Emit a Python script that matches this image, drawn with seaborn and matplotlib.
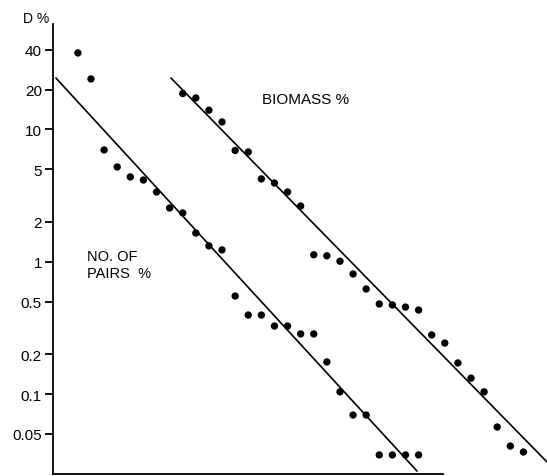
import numpy as np
import pandas as pd
import matplotlib
matplotlib.use("Agg")
import matplotlib.pyplot as plt
import seaborn as sns

# values (x = class index, y = D %)
pairs_x = list(range(0, 27))
pairs_y = [37.9, 24.1, 7.0, 5.21, 4.38, 4.15, 3.37, 2.55, 2.34, 1.65, 1.32, 1.23,
           0.551, 0.396, 0.396, 0.327, 0.327, 0.285, 0.285, 0.175, 0.104, 0.0695,
           0.0695, 0.0347, 0.0347, 0.0347, 0.0347]

biomass_x = list(range(8, 35))
biomass_y = [18.7, 17.3, 14.0, 11.4, 6.94, 6.76, 4.23, 3.94, 3.37, 2.64, 1.13, 1.11,
             1.01, 0.809, 0.623, 0.480, 0.472, 0.455, 0.432, 0.280, 0.243, 0.172,
             0.132, 0.104, 0.0564, 0.0405, 0.0365]

# fitted lines as drawn in the figure (end points)
pairs_line_x = [-1.68, 25.88]
pairs_line_y = [24.5, 0.0262]
biomass_line_x = [7.10, 35.8]
biomass_line_y = [24.5, 0.0307]

tick_vals = [0.05, 0.1, 0.2, 0.5, 1, 2, 5, 10, 20, 40]
tick_labels = ["0.05", "0.1", "0.2", "0.5", "1", "2", "5", "10", "20", "40"]

sns.set_style("ticks")
plt.rcParams["font.family"] = ["Liberation Sans", "DejaVu Sans"]
plt.rcParams["text.color"] = "black"
plt.rcParams["ytick.color"] = "black"
plt.rcParams["ytick.labelcolor"] = "black"
plt.rcParams["axes.edgecolor"] = "black"

df_pairs = pd.DataFrame({"x": pairs_x, "y": pairs_y})
df_bio = pd.DataFrame({"x": biomass_x, "y": biomass_y})

fig = plt.figure(figsize=(5.47, 4.77), dpi=100)
ax = fig.add_axes([53 / 547, 2 / 477, 494 / 547, 450 / 477])

sns.lineplot(x=pairs_line_x, y=pairs_line_y, color="black", linewidth=1.2, ax=ax)
sns.lineplot(x=biomass_line_x, y=biomass_line_y, color="black", linewidth=1.2, ax=ax)
sns.scatterplot(data=df_pairs, x="x", y="y", color="black", s=28, edgecolor="none", ax=ax)
sns.scatterplot(data=df_bio, x="x", y="y", color="black", s=28, edgecolor="none", ax=ax)

ax.set_yscale("log")
ax.set_xlim(-1.9, 35.8)
ax.set_ylim(0.0249, 62.7)
ax.set_yticks(tick_vals)
ax.set_yticklabels(tick_labels)
ax.yaxis.set_minor_locator(matplotlib.ticker.NullLocator())
ax.set_xticks([])
ax.tick_params(axis="y", length=6, width=1.3, pad=2, labelsize=11, colors="black")
ax.set_xlabel("")
ax.set_ylabel("")

for side in ["top", "right"]:
    ax.spines[side].set_visible(False)
ax.spines["left"].set_linewidth(1.3)
ax.spines["bottom"].set_linewidth(1.3)
ax.spines["bottom"].set_bounds(-1.9, 27.9)

fig.text(23 / 547, 1 - 19 / 477, "D %", fontsize=10, va="center", ha="left")
ax.text(14.05, 17.0, "BIOMASS %", fontsize=11, va="center", ha="left")
ax.text(0.7, 0.954, "NO. OF\nPAIRS  %", fontsize=10.5, va="center", ha="left",
        linespacing=1.3)

fig.savefig("out.png", dpi=100)
